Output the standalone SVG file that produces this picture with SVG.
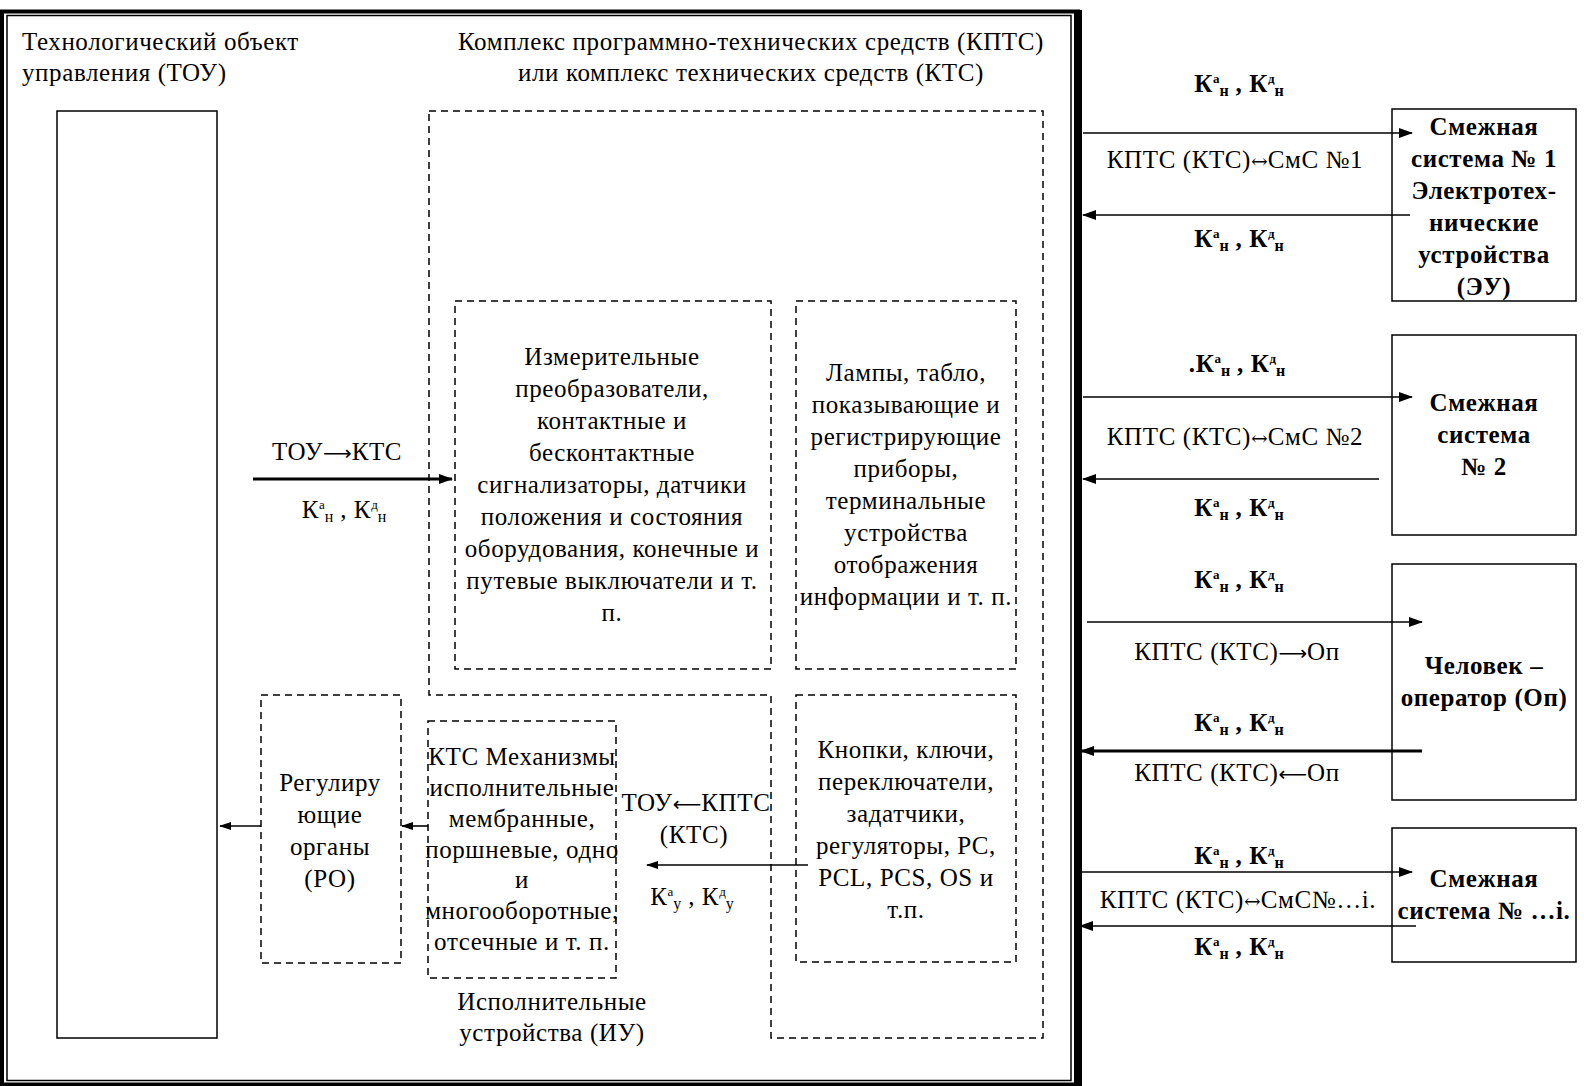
<svg xmlns="http://www.w3.org/2000/svg" width="1584" height="1086" viewBox="0 0 1584 1086">
<defs>
<marker id="ah" markerUnits="userSpaceOnUse" markerWidth="14" markerHeight="10" refX="13" refY="5" orient="auto"><path d="M0,0 L14,5 L0,10 z" fill="#000"/></marker>
<marker id="ahs" markerUnits="userSpaceOnUse" markerWidth="12" markerHeight="10" refX="11" refY="5" orient="auto"><path d="M0,1 L12,5 L0,9 z" fill="#000"/></marker>
<style>
text{font-family:"Liberation Serif","Times New Roman",serif;font-size:25px;letter-spacing:0.6px;fill:#000}
.c{text-anchor:middle}
.b{font-weight:bold}
.sup{font-size:13px;letter-spacing:0}
.sub{font-size:16px;letter-spacing:0}
.ar{font-family:"DejaVu Serif",serif;font-size:20px;letter-spacing:0}
.lar{font-family:"DejaVu Sans",sans-serif;font-size:20px;letter-spacing:0}
.dash{fill:none;stroke:#000;stroke-width:1.5;stroke-dasharray:7 5}
.solid{fill:#fff;stroke:#000;stroke-width:1.5}
.ln{stroke:#000;stroke-width:1.6;fill:none}
.thick{stroke:#000;stroke-width:3.2;fill:none}
</style>
</defs>
<rect width="1584" height="1086" fill="#fff"/>
<g id="frame">
<rect x="2" y="11.5" width="1076" height="1073" fill="none" stroke="#000" stroke-width="4"/>
<line x1="1078" y1="10" x2="1078" y2="1086" stroke="#000" stroke-width="8"/>
<rect x="7" y="15.5" width="1064" height="1065" fill="none" stroke="#000" stroke-width="1.5"/>
</g>
<g id="tou">
<rect x="57" y="111" width="160" height="927" class="solid"/>
<text x="22" y="50">Технологический объект</text>
<text x="22" y="81">управления (ТОУ)</text>
</g>
<g id="kpts">
<path class="dash" d="M429,111 H1043 V1038 H771 V695 H429 Z"/>
<text class="c" x="751" y="50">Комплекс программно-технических средств (КПТС)</text>
<text class="c" x="751" y="81">или комплекс технических средств (КТС)</text>
</g>
<g id="measure">
<rect class="dash" x="455" y="301" width="316" height="368"/>
<text class="c" x="612" y="365">Измерительные</text>
<text class="c" x="612" y="397">преобразователи,</text>
<text class="c" x="612" y="429">контактные и</text>
<text class="c" x="612" y="461">бесконтактные</text>
<text class="c" x="612" y="493">сигнализаторы, датчики</text>
<text class="c" x="612" y="525">положения и состояния</text>
<text class="c" x="612" y="557">оборудования, конечные и</text>
<text class="c" x="612" y="589">путевые выключатели и т.</text>
<text class="c" x="612" y="621">п.</text>
</g>
<g id="lamps">
<rect class="dash" x="796" y="301" width="220" height="368"/>
<text class="c" x="906" y="381">Лампы, табло,</text>
<text class="c" x="906" y="413">показывающие и</text>
<text class="c" x="906" y="445">регистрирующие</text>
<text class="c" x="906" y="477">приборы,</text>
<text class="c" x="906" y="509">терминальные</text>
<text class="c" x="906" y="541">устройства</text>
<text class="c" x="906" y="573">отображения</text>
<text class="c" x="906" y="605">информации и т. п.</text>
</g>
<g id="buttons">
<rect class="dash" x="796" y="695" width="220" height="267"/>
<text class="c" x="906" y="758">Кнопки, ключи,</text>
<text class="c" x="906" y="790">переключатели,</text>
<text class="c" x="906" y="822">задатчики,</text>
<text class="c" x="906" y="854">регуляторы, PC,</text>
<text class="c" x="906" y="886">PCL, PCS, OS и</text>
<text class="c" x="906" y="918">т.п.</text>
</g>
<g id="mech">
<rect class="dash" x="428" y="721" width="188" height="257"/>
<text class="c" x="522" y="765">КТС Механизмы</text>
<text class="c" x="522" y="796">исполнительные</text>
<text class="c" x="522" y="827">мембранные,</text>
<text class="c" x="522" y="858">поршневые, одно</text>
<text class="c" x="522" y="888">и</text>
<text class="c" x="522" y="919">многооборотные,</text>
<text class="c" x="522" y="950">отсечные и т. п.</text>
<text class="c" x="552" y="1010">Исполнительные</text>
<text class="c" x="552" y="1041">устройства (ИУ)</text>
</g>
<g id="ro">
<rect class="dash" x="261" y="695" width="140" height="268"/>
<text class="c" x="330" y="791">Регулиру</text>
<text class="c" x="330" y="823">ющие</text>
<text class="c" x="330" y="855">органы</text>
<text class="c" x="330" y="887">(РО)</text>
</g>
<g id="sys1">
<rect class="solid" x="1392" y="109" width="184" height="192"/>
<text class="c b" x="1484" y="135">Смежная</text>
<text class="c b" x="1484" y="167">система № 1</text>
<text class="c b" x="1484" y="199">Электротех-</text>
<text class="c b" x="1484" y="231">нические</text>
<text class="c b" x="1484" y="263">устройства</text>
<text class="c b" x="1484" y="295">(ЭУ)</text>
</g>
<g id="sys2">
<rect class="solid" x="1392" y="335" width="184" height="200"/>
<text class="c b" x="1484" y="411">Смежная</text>
<text class="c b" x="1484" y="443">система</text>
<text class="c b" x="1484" y="475">№ 2</text>
</g>
<g id="operator">
<rect class="solid" x="1392" y="564" width="184" height="236"/>
<text class="c b" x="1484" y="674">Человек –</text>
<text class="c b" x="1484" y="706">оператор (Оп)</text>
</g>
<g id="sysi">
<rect class="solid" x="1392" y="828" width="184" height="134"/>
<text class="c b" x="1484" y="887">Смежная</text>
<text class="c b" x="1484" y="919">система № …i.</text>
</g>
<g id="connectors">
<line class="thick" x1="253" y1="479" x2="452" y2="479" marker-end="url(#ah)"/>
<line class="ln" x1="808" y1="865" x2="647" y2="865" marker-end="url(#ahs)"/>
<line class="ln" x1="261" y1="826" x2="220" y2="826" marker-end="url(#ahs)"/>
<line class="ln" x1="428" y1="826" x2="402" y2="826" marker-end="url(#ahs)"/>
<line class="ln" x1="1083" y1="133" x2="1412" y2="133" marker-end="url(#ah)"/>
<line class="ln" x1="1410" y1="215" x2="1083" y2="215" marker-end="url(#ah)"/>
<line class="ln" x1="1083" y1="397" x2="1412" y2="397" marker-end="url(#ah)"/>
<line class="ln" x1="1379" y1="479" x2="1083" y2="479" marker-end="url(#ah)"/>
<line class="ln" x1="1087" y1="622" x2="1422" y2="622" marker-end="url(#ah)"/>
<line class="thick" x1="1422" y1="751" x2="1081" y2="751" marker-end="url(#ah)"/>
<line class="ln" x1="1080" y1="872" x2="1412" y2="872" marker-end="url(#ah)"/>
<line class="ln" x1="1416" y1="926" x2="1080" y2="926" marker-end="url(#ah)"/>
</g>
<g id="labels">
<text class="c" x="337" y="460">ТОУ<tspan class="lar">⟶</tspan>КТС</text>
<text class="c" x="344" y="518">К<tspan class="sup" dy="-9">а</tspan><tspan class="sub" dy="13">н</tspan><tspan dy="-4"> , К</tspan><tspan class="sup" dy="-9">д</tspan><tspan class="sub" dy="13">н</tspan></text>
<text class="c" x="696" y="811">ТОУ<tspan class="lar">⟵</tspan>КПТС</text>
<text class="c" x="694" y="843">(КТС)</text>
<text class="c" x="692" y="905">К<tspan class="sup" dy="-9">а</tspan><tspan class="sub" dy="13">у</tspan><tspan dy="-4"> , К</tspan><tspan class="sup" dy="-9">д</tspan><tspan class="sub" dy="13">у</tspan></text>
<text class="c" x="1235" y="168">КПТС (КТС)<tspan class="ar">↔</tspan>СмС №1</text>
<text class="c" x="1235" y="445">КПТС (КТС)<tspan class="ar">↔</tspan>СмС №2</text>
<text class="c" x="1237" y="660">КПТС (КТС)<tspan class="lar">⟶</tspan>Оп</text>
<text class="c" x="1237" y="781">КПТС (КТС)<tspan class="lar">⟵</tspan>Оп</text>
<text class="c" x="1238" y="908">КПТС (КТС)<tspan class="ar">↔</tspan>СмС№…i.</text>
<text class="c b" x="1239" y="92">К<tspan class="sup" dy="-9">а</tspan><tspan class="sub" dy="13">н</tspan><tspan dy="-4"> , К</tspan><tspan class="sup" dy="-9">д</tspan><tspan class="sub" dy="13">н</tspan></text>
<text class="c b" x="1239" y="247">К<tspan class="sup" dy="-9">а</tspan><tspan class="sub" dy="13">н</tspan><tspan dy="-4"> , К</tspan><tspan class="sup" dy="-9">д</tspan><tspan class="sub" dy="13">н</tspan></text>
<text class="c b" x="1237" y="372">.К<tspan class="sup" dy="-9">а</tspan><tspan class="sub" dy="13">н</tspan><tspan dy="-4"> , К</tspan><tspan class="sup" dy="-9">д</tspan><tspan class="sub" dy="13">н</tspan></text>
<text class="c b" x="1239" y="516">К<tspan class="sup" dy="-9">а</tspan><tspan class="sub" dy="13">н</tspan><tspan dy="-4"> , К</tspan><tspan class="sup" dy="-9">д</tspan><tspan class="sub" dy="13">н</tspan></text>
<text class="c b" x="1239" y="588">К<tspan class="sup" dy="-9">а</tspan><tspan class="sub" dy="13">н</tspan><tspan dy="-4"> , К</tspan><tspan class="sup" dy="-9">д</tspan><tspan class="sub" dy="13">н</tspan></text>
<text class="c b" x="1239" y="731">К<tspan class="sup" dy="-9">а</tspan><tspan class="sub" dy="13">н</tspan><tspan dy="-4"> , К</tspan><tspan class="sup" dy="-9">д</tspan><tspan class="sub" dy="13">н</tspan></text>
<text class="c b" x="1239" y="864">К<tspan class="sup" dy="-9">а</tspan><tspan class="sub" dy="13">н</tspan><tspan dy="-4"> , К</tspan><tspan class="sup" dy="-9">д</tspan><tspan class="sub" dy="13">н</tspan></text>
<text class="c b" x="1239" y="955">К<tspan class="sup" dy="-9">а</tspan><tspan class="sub" dy="13">н</tspan><tspan dy="-4"> , К</tspan><tspan class="sup" dy="-9">д</tspan><tspan class="sub" dy="13">н</tspan></text>
</g>
</svg>
